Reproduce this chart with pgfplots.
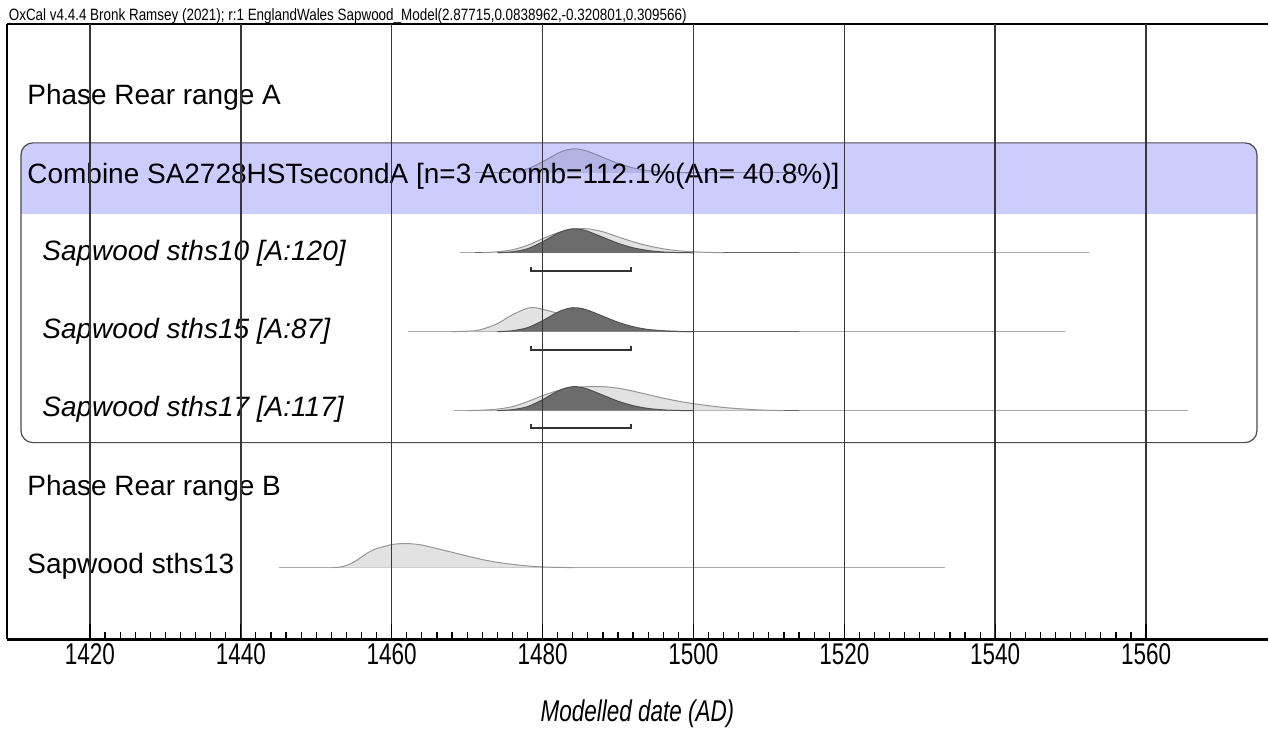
\documentclass[border=0pt]{standalone}
\usepackage{fontspec}
\setmainfont{Liberation Sans}
\newfontfamily\narrowfont[FakeStretch=0.75]{Liberation Sans}
\newfontfamily\headfont[FakeStretch=0.82]{Liberation Sans}
\usepackage{pgfplots}
\usepackage{pgfplotstable}
\pgfplotsset{compat=1.18}

\definecolor{bandblue}{RGB}{204,204,255}
\definecolor{priorfill}{RGB}{226,226,226}
\definecolor{prioredge}{RGB}{150,150,150}
\definecolor{postfill}{RGB}{108,108,108}
\definecolor{postedge}{RGB}{80,80,80}
\definecolor{combfill}{RGB}{180,180,228}
\definecolor{combedge}{RGB}{135,135,170}
\definecolor{gridgray}{RGB}{55,55,55}
\definecolor{rangegray}{RGB}{170,170,170}
\definecolor{rangedark}{RGB}{100,100,100}

\newcommand\lab{\fontsize{14}{16}\selectfont}
\newcommand\ticksize{\fontsize{15}{17}\selectfont}

% posterior of the combined date (same for every sample), height in px
\pgfplotstableread{
year h
1474 0
1476 1
1478 4
1480 11
1482 19.5
1483 22.5
1484 24
1485 23.5
1486 21.5
1488 15.5
1490 9.5
1492 5
1494 2.2
1496 0.8
1498 0.2
1500 0
}\posterior

% sths10 prior
\pgfplotstableread{
year h
1472 0
1474 1
1476 3
1478 7.5
1480 14
1482 20
1484 23.5
1486 24
1488 21
1490 16
1492 11
1494 7
1496 4
1498 2
1500 1
1502 0.4
1504 0
}\priorA

% sths15 prior
\pgfplotstableread{
year h
1468 0
1470 0.5
1471 1
1472 2.5
1474 8
1476 17
1478 23.5
1479 24
1480 22.5
1482 18.5
1484 14.5
1486 11
1488 8
1490 5.5
1492 3.5
1494 2
1496 1
1498 0.4
1500 0
}\priorB

% sths17 prior
\pgfplotstableread{
year h
1470 0
1472 0.5
1474 1.5
1476 4
1478 9
1480 15
1482 20
1484 23
1486 24
1488 24
1490 22.5
1492 19.5
1494 16
1496 12.5
1498 9.5
1500 7
1502 5
1504 3.2
1506 2
1508 1
1510 0.4
1512 0
}\priorC

% sths13 prior
\pgfplotstableread{
year h
1452 0
1453 0.3
1454 2
1455 5.5
1456 10.5
1457 15.5
1458 19
1459 21
1460 23
1461 23.8
1462 24
1463 23.5
1464 22.5
1466 19
1468 15.3
1470 11.5
1472 8
1474 5.2
1476 3.2
1478 1.6
1480 0.6
1482 0.1
1484 0
}\priorD

\begin{document}
\begin{tikzpicture}
\begin{axis}[
  scale only axis,
  width=631pt, height=308pt,
  xmin=1409, xmax=1576.15,
  ymin=-640, ymax=-24,
  clip=false,
  axis on top,
  axis x line*=bottom,
  axis y line*=left,
  axis line style={line width=1.1pt, -},
  ytick=\empty,
  xtick={1420,1440,...,1560},
  minor x tick num=9,
  tick align=inside,
  major tick length=7.5pt,
  minor tick length=3.5pt,
  tick style={black, line width=0.6pt},
  xmajorgrids,
  major grid style={gridgray, line width=0.75pt},
  /pgf/number format/1000 sep={},
  /pgf/number format/assume math mode=true,
  xticklabel style={font=\narrowfont\ticksize, yshift=1.5pt},
  xlabel={Modelled date (AD)},
  xlabel style={font=\narrowfont\itshape\ticksize, yshift=-10.5pt},
  every axis plot/.append style={line width=0.5pt},
]
% combine group box and header band
\fill[bandblue] (axis cs:1410.86,-214) {[rounded corners=6pt] -- (axis cs:1410.86,-143) -- (axis cs:1574.70,-143)} -- (axis cs:1574.70,-214) -- cycle;
\draw[gray!60!black, line width=0.6pt, rounded corners=6pt] (axis cs:1410.86,-143) rectangle (axis cs:1574.70,-443);

% combined distribution
\addplot[combedge, line width=0.6pt] coordinates {(1471,-173) (1514,-173)};
\addplot[fill=combfill, draw=combedge, smooth, tension=0.5] table[x=year, y expr=-173+\thisrow{h}] {\posterior};

% sths10
\addplot[rangegray] coordinates {(1469,-253) (1552.4,-253)};
\addplot[rangedark] coordinates {(1471,-253) (1514,-253)};
\addplot[fill=priorfill, draw=prioredge, smooth, tension=0.5] table[x=year, y expr=-253+\thisrow{h}] {\priorA};
\addplot[fill=postfill, draw=postedge, smooth, tension=0.5] table[x=year, y expr=-253+\thisrow{h}] {\posterior};
\addplot[black!80, line width=1pt] coordinates {(1478.5,-267.5) (1478.5,-271) (1491.7,-271) (1491.7,-267.5)};

% sths15
\addplot[rangegray] coordinates {(1462.1,-332) (1549.3,-332)};
\addplot[rangedark] coordinates {(1471,-332) (1514,-332)};
\addplot[fill=priorfill, draw=prioredge, smooth, tension=0.5] table[x=year, y expr=-332+\thisrow{h}] {\priorB};
\addplot[fill=postfill, draw=postedge, smooth, tension=0.5] table[x=year, y expr=-332+\thisrow{h}] {\posterior};
\addplot[black!80, line width=1pt] coordinates {(1478.5,-346.5) (1478.5,-350) (1491.7,-350) (1491.7,-346.5)};

% sths17
\addplot[rangegray] coordinates {(1468.3,-411) (1565.6,-411)};
\addplot[rangedark] coordinates {(1471,-411) (1514,-411)};
\addplot[fill=priorfill, draw=prioredge, smooth, tension=0.5] table[x=year, y expr=-411+\thisrow{h}] {\priorC};
\addplot[fill=postfill, draw=postedge, smooth, tension=0.5] table[x=year, y expr=-411+\thisrow{h}] {\posterior};
\addplot[black!80, line width=1pt] coordinates {(1478.5,-424.5) (1478.5,-428) (1491.7,-428) (1491.7,-424.5)};

% sths13
\addplot[rangegray] coordinates {(1445,-568) (1533.3,-568)};
\addplot[fill=priorfill, draw=prioredge, smooth, tension=0.5] table[x=year, y expr=-568+\thisrow{h}] {\priorD};

% labels
\node[anchor=west, inner sep=0pt, font=\lab] at (axis cs:1411.66,-97) {Phase Rear range A};
\node[anchor=west, inner sep=0pt, font=\lab] at (axis cs:1411.66,-176) {Combine SA2728HSTsecondA [n=3 Acomb=112.1\%(An= 40.8\%)]};
\node[anchor=west, inner sep=0pt, font=\lab\itshape] at (axis cs:1413.64,-253) {Sapwood sths10 [A:120]};
\node[anchor=west, inner sep=0pt, font=\lab\itshape] at (axis cs:1413.64,-332) {Sapwood sths15 [A:87]};
\node[anchor=west, inner sep=0pt, font=\lab\itshape] at (axis cs:1413.64,-410) {Sapwood sths17 [A:117]};
\node[anchor=west, inner sep=0pt, font=\lab] at (axis cs:1411.66,-489) {Phase Rear range B};
\node[anchor=west, inner sep=0pt, font=\lab] at (axis cs:1411.66,-567) {Sapwood sths13};

% top frame line and header
\draw[black, line width=1.1pt] (axis cs:1409,-24) -- (axis cs:1576.15,-24);
\node[anchor=base west, inner sep=0pt, font=\headfont\fontsize{8.2}{10}\selectfont] at (axis cs:1409.2,-20.5) {OxCal v4.4.4 Bronk Ramsey (2021); r:1 EnglandWales Sapwood\_Model(2.87715,0.0838962,-0.320801,0.309566)};

\coordinate (bbA) at (axis cs:1408.08,0);
\coordinate (bbB) at (axis cs:1576.15,-727);
\end{axis}
\useasboundingbox (bbA) rectangle (bbB);
\end{tikzpicture}
\end{document}
